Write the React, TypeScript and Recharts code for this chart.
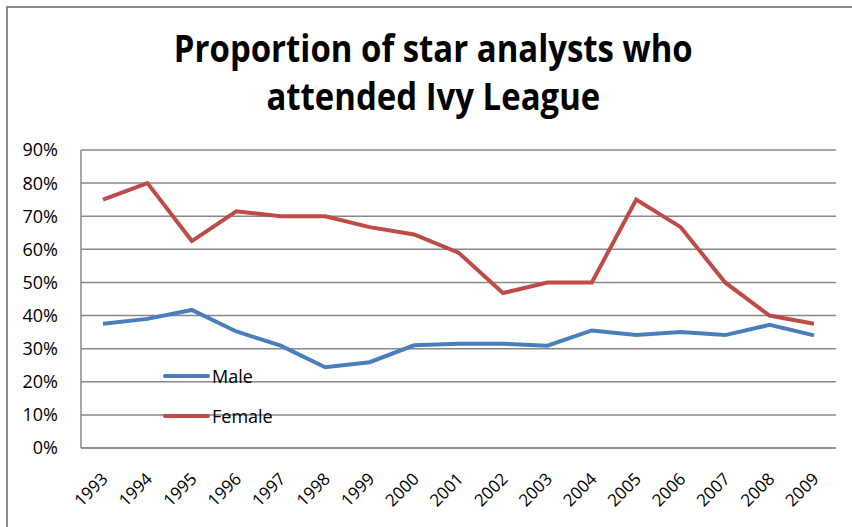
import { CartesianGrid, Line, LineChart, XAxis, YAxis } from "recharts";

const YEARS = [
  "1993", "1994", "1995", "1996", "1997", "1998", "1999", "2000", "2001",
  "2002", "2003", "2004", "2005", "2006", "2007", "2008", "2009",
];

const MALE = [
  37.5, 39, 41.7, 35.2, 30.9, 24.4, 25.9, 31, 31.5, 31.5, 30.9, 35.5, 34.1, 35, 34.1,
  37.2, 34,
];

const FEMALE = [
  75, 80, 62.5, 71.5, 70, 70, 66.7, 64.5, 59, 46.8, 50, 50, 75, 66.7, 50, 40, 37.5,
];

const Y_TICKS = [0, 10, 20, 30, 40, 50, 60, 70, 80, 90];

const SERIES = [
  { key: "male", name: "Male", color: "#4a7ebb" },
  { key: "female", name: "Female", color: "#be4b48" },
];

const data = YEARS.map((year, i) => ({ year, male: MALE[i], female: FEMALE[i] }));

const FONT = "'Open Sans', 'Noto Sans', sans-serif";

function YearTick({ x, y, payload }: any) {
  return (
    <g transform={`translate(${x + 6},${y + 32}) rotate(-45)`}>
      <text x={0} y={0} textAnchor="end" fontFamily={FONT} fontSize={17} fill="#000">
        {payload.value}
      </text>
    </g>
  );
}

// legend sits inside the plot area, like the Excel original
function LegendBox() {
  return (
    <div
      style={{
        position: "absolute",
        left: 163,
        top: 356,
        fontFamily: FONT,
        fontSize: 18,
        color: "#000",
      }}
    >
      {SERIES.map((s) => (
        <div key={s.key} style={{ display: "flex", alignItems: "center", height: 40 }}>
          <span
            style={{
              display: "inline-block",
              width: 47,
              height: 4,
              borderRadius: 2,
              backgroundColor: s.color,
              marginRight: 2,
            }}
          />
          <span>{s.name}</span>
        </div>
      ))}
    </div>
  );
}

export default function App() {
  return (
    <div
      style={{
        position: "fixed",
        left: 0,
        top: 0,
        width: 852,
        height: 527,
        overflow: "hidden",
        background: "#fff",
      }}
    >
      <div
        style={{
          position: "absolute",
          left: 6,
          top: 6,
          width: 900,
          height: 600,
          border: "2px solid #8c8c8c",
        }}
      />
      <div
        style={{
          position: "absolute",
          left: 12,
          top: 24,
          width: 840,
          textAlign: "center",
          fontFamily: FONT,
          fontWeight: 700,
          fontSize: 37,
          lineHeight: "48px",
          color: "#000",
          transform: "scaleX(0.89)",
          transformOrigin: "432px 0",
        }}
      >
        Proportion of star analysts who
        <br />
        attended Ivy League
      </div>
      <LineChart
        width={852}
        height={527}
        data={data}
        margin={{ top: 150, right: 16, bottom: 0, left: 0 }}
      >
        <CartesianGrid vertical={false} stroke="#888" strokeWidth={1.5} />
        <XAxis
          dataKey="year"
          interval={0}
          height={79}
          tickLine={false}
          tickSize={0}
          tickMargin={0}
          padding={{ left: 22, right: 22 }}
          axisLine={{ stroke: "#888", strokeWidth: 1.5 }}
          tick={<YearTick />}
        />
        <YAxis
          width={81}
          domain={[0, 90]}
          ticks={Y_TICKS}
          interval={0}
          tickLine={false}
          tickMargin={17}
          axisLine={{ stroke: "#888", strokeWidth: 1.5 }}
          tickFormatter={(v: number) => `${v}%`}
          tick={{ fill: "#000", fontSize: 18, fontFamily: FONT }}
        />
        {SERIES.map((s) => (
          <Line
            key={s.key}
            type="linear"
            dataKey={s.key}
            name={s.name}
            stroke={s.color}
            strokeWidth={4}
            dot={false}
            isAnimationActive={false}
          />
        ))}
      </LineChart>
      <LegendBox />
    </div>
  );
}
